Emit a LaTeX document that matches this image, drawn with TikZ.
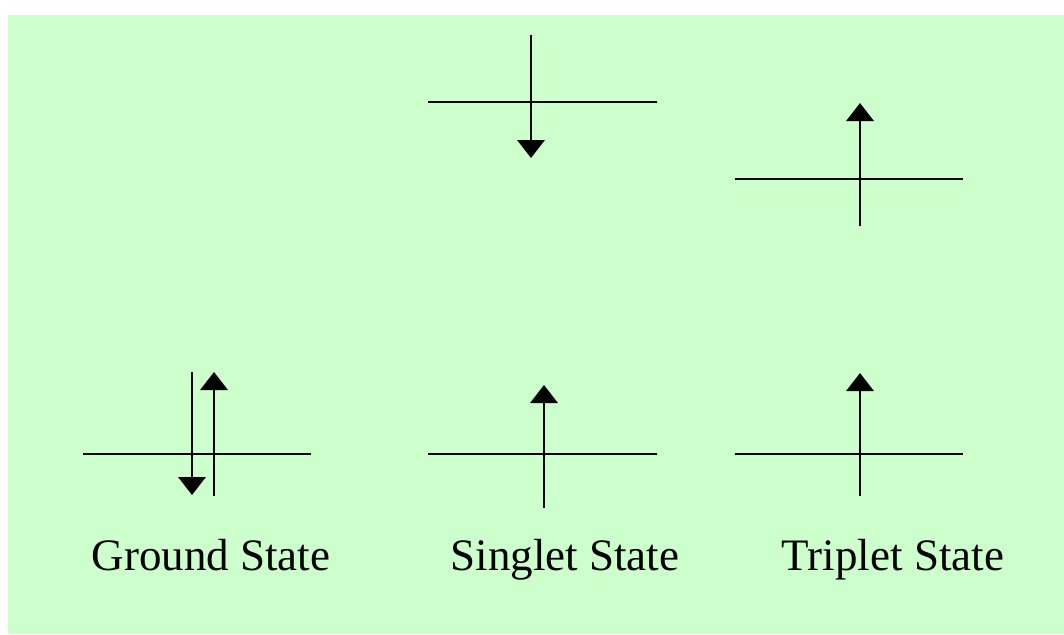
\documentclass[tikz,border=0pt]{standalone}
\usepackage{fontspec}
\setmainfont{Liberation Serif}
\usetikzlibrary{arrows.meta}
\definecolor{bggreen}{RGB}{204,255,204}
\begin{document}
\begin{tikzpicture}[x=0.025cm, y=-0.025cm,
        level/.style={line width=1.3pt},
        spin/.style={line width=2pt, -{Triangle[width=0.68cm, length=0.45cm]}},
        label/.style={font=\fontsize{32}{38}\selectfont, anchor=base}
    ]
    \useasboundingbox (0,0) rectangle (1064,634);
    \fill[bggreen] (8,15) rectangle (1064,634);

    % energy levels
    \coordinate (gs-l) at (83,454);   \coordinate (gs-r) at (311,454);
    \coordinate (ss-l) at (428,454);  \coordinate (ss-r) at (657,454);
    \coordinate (ts-l) at (735,454);  \coordinate (ts-r) at (963,454);
    \coordinate (ssx-l) at (428,102); \coordinate (ssx-r) at (657,102);
    \coordinate (tsx-l) at (735,179); \coordinate (tsx-r) at (963,179);
    \draw[level] (gs-l) -- (gs-r);
    \draw[level] (ss-l) -- (ss-r);
    \draw[level] (ts-l) -- (ts-r);
    \draw[level] (ssx-l) -- (ssx-r);
    \draw[level] (tsx-l) -- (tsx-r);

    % electron spins
    \coordinate (gs-dn-a) at (192,372);  \coordinate (gs-dn-b) at (192,495);
    \coordinate (gs-up-a) at (214,496);  \coordinate (gs-up-b) at (214,372);
    \coordinate (ss-up-a) at (544,508);  \coordinate (ss-up-b) at (544,385);
    \coordinate (ts-up-a) at (860,496);  \coordinate (ts-up-b) at (860,373);
    \coordinate (ssx-dn-a) at (531,35);  \coordinate (ssx-dn-b) at (531,158);
    \coordinate (tsx-up-a) at (860,226); \coordinate (tsx-up-b) at (860,103);
    \draw[spin] (gs-dn-a) -- (gs-dn-b);
    \draw[spin] (gs-up-a) -- (gs-up-b);
    \draw[spin] (ss-up-a) -- (ss-up-b);
    \draw[spin] (ts-up-a) -- (ts-up-b);
    \draw[spin] (ssx-dn-a) -- (ssx-dn-b);
    \draw[spin] (tsx-up-a) -- (tsx-up-b);

    \node[label] (ground) at (211,570) {Ground State};
    \node[label] (singlet) at (565,570) {Singlet State};
    \node[label] (triplet) at (893,570) {Triplet State};
\end{tikzpicture}
\end{document}
